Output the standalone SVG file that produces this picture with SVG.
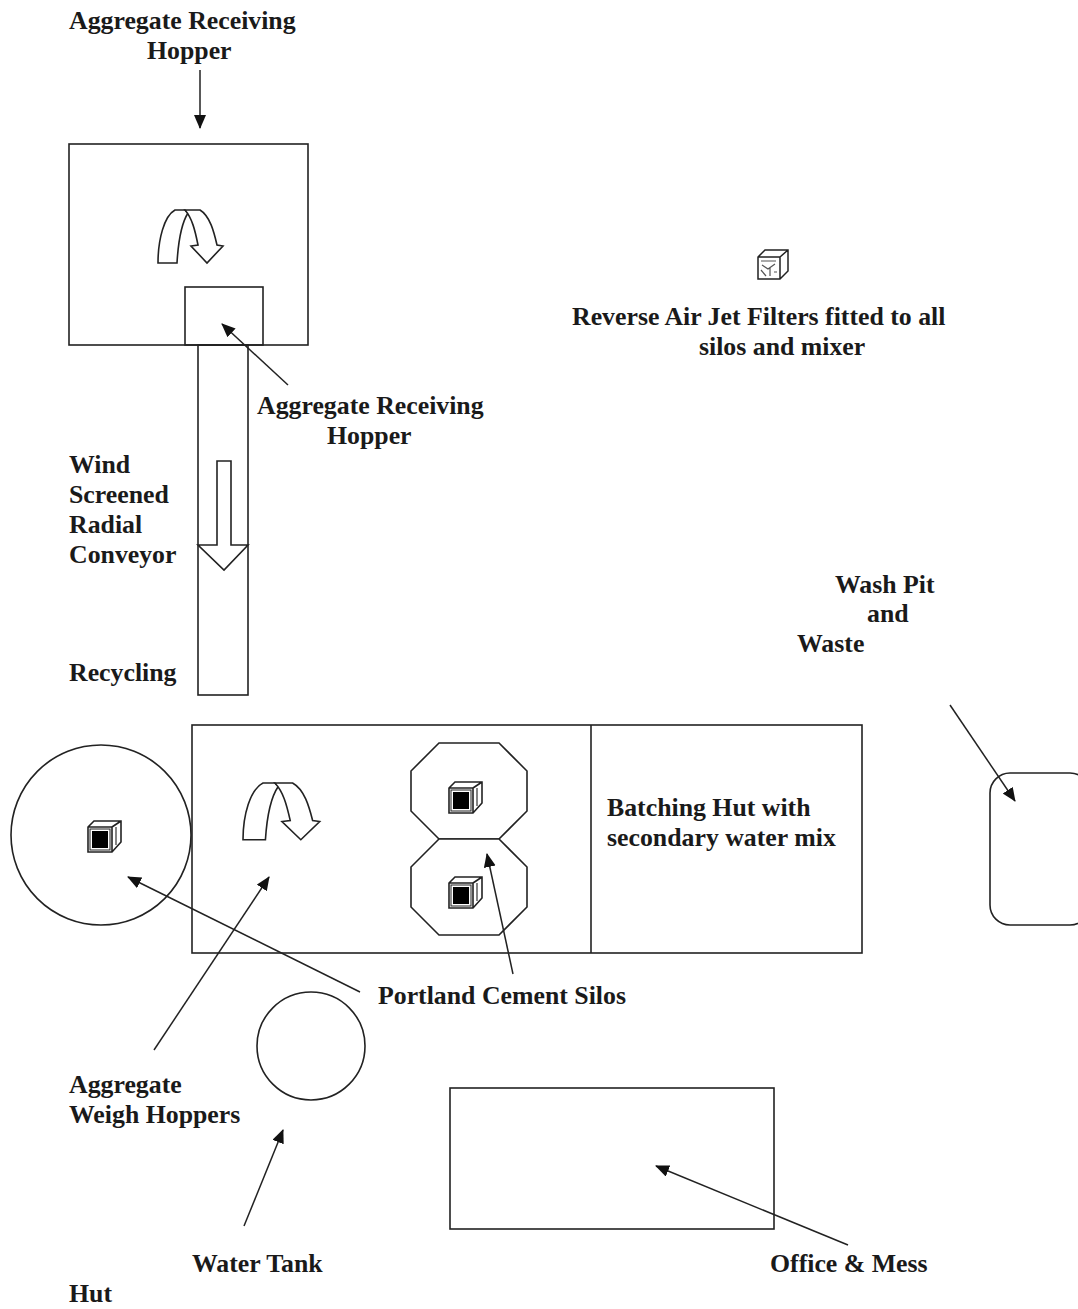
<svg xmlns="http://www.w3.org/2000/svg" width="1078" height="1309" viewBox="0 0 1078 1309">
<style>
.s{fill:none;stroke:#222;stroke-width:1.6}
.w{fill:#fff;stroke:#222;stroke-width:1.6}
.u{fill:#fff;stroke:#222;stroke-width:1.6;vector-effect:non-scaling-stroke}
.c{fill:none;stroke:#222;stroke-width:1.5;marker-end:url(#a)}
text{font-family:"Liberation Serif","Times New Roman",serif;font-weight:bold;font-size:25.8px;fill:#1a1a1a}
</style>
<defs>
<marker id="a" markerUnits="userSpaceOnUse" markerWidth="16" markerHeight="14" refX="13" refY="6" orient="auto"><path d="M0 0L14 6L0 12Z" fill="#111"/></marker>
<g id="uturn">
<path class="u" d="M0 53H19C20 36 23 14 30 3L27 0H17C6 6 0 30 0 53Z"/>
<path class="u" d="M27 0H42C52 6 56 22 59 35L65 36L49 53L33 36L40 35C37 20 34 8 27 0Z"/>
</g>
<g id="cube">
<path fill="#fff" stroke="#222" stroke-width="1.6" d="M0 6L6 0H33V21L24 31H0Z M0 6H24V31 M24 6L33 0"/>
<rect x="2" y="8" width="20" height="21" fill="none" stroke="#222" stroke-width="1"/>
<rect x="4" y="10" width="16" height="17" fill="#000"/>
<path fill="none" stroke="#333" stroke-width="1.2" d="M28 6V24"/>
</g>
</defs>

<g id="hopper-top"><rect class="s" x="69" y="144" width="239" height="201"/><use href="#uturn" x="158" y="210"/></g>
<g id="hopper-inner"><rect class="s" x="185" y="287" width="78" height="58"/></g>
<g id="conveyor">
<rect class="s" x="198" y="345" width="50" height="350"/>
<path class="w" d="M217 461H231V545H248L224 570L198 545H217Z"/>
</g>
<g id="batching"><rect class="s" x="192" y="725" width="670" height="228"/><path class="s" d="M591 725V953"/><use href="#uturn" transform="translate(243 783) scale(1.18 1.07)"/></g>
<g id="silo-1"><path class="w" d="M439 743H499L527 771V811L499 839H439L411 811V771Z"/><use href="#cube" x="449" y="782"/></g>
<g id="silo-2"><path class="w" d="M439 839H499L527 867V907L499 935H439L411 907V867Z"/><use href="#cube" x="449" y="877"/></g>
<g id="mixer-circle"><circle class="s" cx="101" cy="835" r="90"/><use href="#cube" x="88" y="821"/></g>
<g id="water-tank"><circle class="s" cx="311" cy="1046" r="54"/></g>
<g id="office"><rect class="s" x="450" y="1088" width="324" height="141"/></g>
<g id="wash-pit"><rect class="s" x="990" y="773" width="100" height="152" rx="20"/></g>
<g id="filter-icon">
<path fill="#fff" stroke="#222" stroke-width="1.5" d="M758 257L765 250H788V271L780 279H758Z M758 257H780V279 M780 257L788 250"/>
<path fill="none" stroke="#555" stroke-width="1.2" d="M761 261H776M762 265L768 269L775 264M761 270L766 276M770 268V276M774 272H777"/>
</g>

<g id="connectors">
<path class="c" d="M200 70V128"/>
<path class="c" d="M288 385L222 324"/>
<path class="c" d="M950 705L1015 801"/>
<path class="c" d="M360 992L128 877"/>
<path class="c" d="M154 1050L269 877"/>
<path class="c" d="M513 974L487 854"/>
<path class="c" d="M244 1226L283 1130"/>
<path class="c" d="M848 1245L656 1166"/>
</g>

<g id="labels">
<text x="69" y="29">Aggregate Receiving</text>
<text x="147" y="59">Hopper</text>
<text x="572" y="325">Reverse Air Jet Filters fitted to all</text>
<text x="699" y="355">silos and mixer</text>
<text x="257" y="414">Aggregate Receiving</text>
<text x="327" y="444">Hopper</text>
<text x="69" y="473">Wind</text>
<text x="69" y="503">Screened</text>
<text x="69" y="533">Radial</text>
<text x="69" y="563">Conveyor</text>
<text x="69" y="681">Recycling</text>
<text x="835" y="593">Wash Pit</text>
<text x="867" y="622">and</text>
<text x="797" y="652">Waste</text>
<text x="607" y="816">Batching Hut with</text>
<text x="607" y="846">secondary water mix</text>
<text x="378" y="1004">Portland Cement Silos</text>
<text x="69" y="1093">Aggregate</text>
<text x="69" y="1123">Weigh Hoppers</text>
<text x="192" y="1272">Water Tank</text>
<text x="770" y="1272">Office &amp; Mess</text>
<text x="69" y="1302">Hut</text>
</g>
</svg>
